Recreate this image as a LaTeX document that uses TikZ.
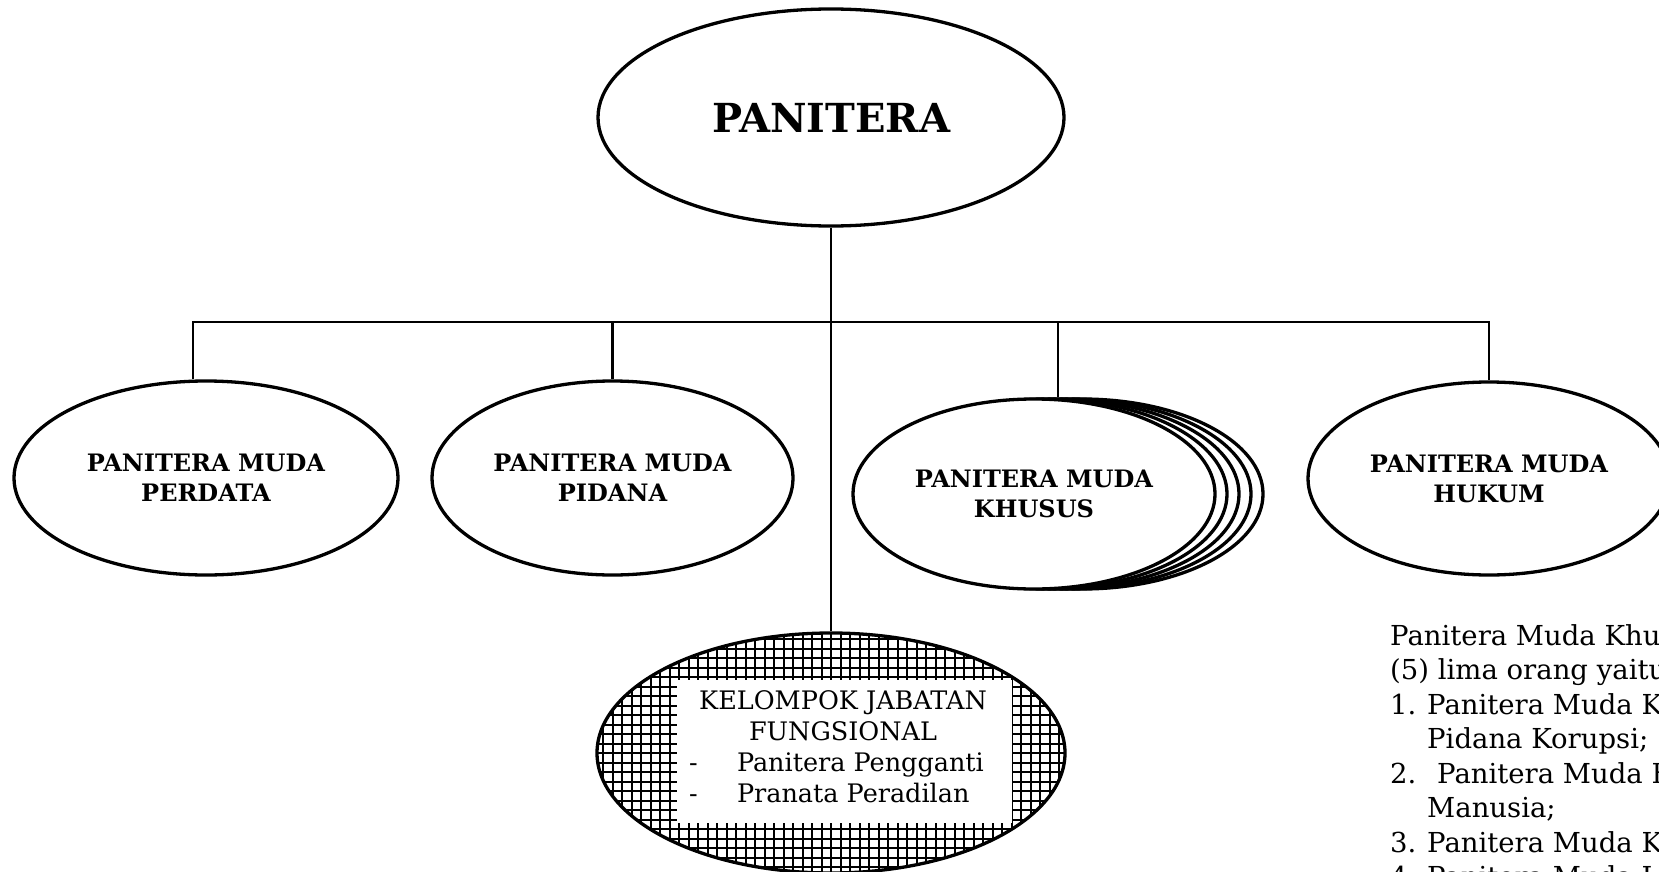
\documentclass[tikz,border=0pt]{standalone}
\usepackage{fontspec}
\setmainfont{DejaVu Serif}
\usetikzlibrary{shapes.geometric}

\begin{document}
\begin{tikzpicture}[x=1pt,y=-1pt,
  oval/.style={ellipse,draw,line width=3.3pt,fill=white,inner sep=0pt,
    minimum width=362pt,minimum height=192pt,align=center,
    font=\bfseries\fontsize{24}{30}\selectfont},
  conn/.style={line width=2.8pt},
  hatch/.style={ellipse,draw,line width=3.3pt,inner sep=0pt,
    path picture={\draw[line width=2pt,step=9.5pt]
      (path picture bounding box.south west) grid (path picture bounding box.north east);}},
  fnbox/.style={rectangle,fill=white,inner sep=0pt},
  note/.style={align=left,inner sep=0pt,font=\fontsize{27.5}{34.5}\selectfont}]
\useasboundingbox (0,0) rectangle (1659,872);
\clip (0,0) rectangle (1659,872);

% Panitera
\node[oval,minimum width=466pt,minimum height=217pt,font=\bfseries\fontsize{40}{48}\selectfont]
  (panitera) at (831,117.5) {PANITERA};

% Panitera Muda
\node[oval,minimum width=384pt,minimum height=194pt] (perdata) at (206,478) {PANITERA MUDA\\PERDATA};
\node[oval,minimum width=361pt,minimum height=194pt] (pidana) at (612.5,478) {PANITERA MUDA\\PIDANA};
\foreach \dx in {48,36,24,12}
  \node[oval,minimum height=190pt] (khusus\dx) at (1034+\dx,494) {};
\node[oval,minimum height=190pt] (khusus) at (1034,494) {PANITERA MUDA\\KHUSUS};
\node[oval,minimum height=193pt] (hukum) at (1489,478.5) {PANITERA MUDA\\HUKUM};

% Kelompok jabatan fungsional
\node[hatch,minimum width=468pt,minimum height=240pt] (fungsional) at (831,753) {};
\node[fnbox,minimum width=335pt,minimum height=143pt] (fnbox) at (844.5,751.5) {};
\node[align=center,inner sep=0pt,font=\fontsize{25.5}{31}\selectfont] (fntext) at (843,747)
  {KELOMPOK JABATAN\\FUNGSIONAL\\
   \makebox[308pt][l]{\makebox[48pt][l]{-}Panitera Pengganti}\\
   \makebox[308pt][l]{\makebox[48pt][l]{-}Pranata Peradilan}};

% Keterangan
\node[note,anchor=north west] (note) at (1390,624)
  {Panitera Muda Khu\\
   (5) lima orang yaitu\\
   \makebox[37pt][l]{1.}Panitera Muda K\\
   \hspace*{37pt}Pidana Korupsi;\\
   \makebox[37pt][l]{2.}\hspace*{10pt}Panitera Muda H\\
   \hspace*{37pt}Manusia;\\
   \makebox[37pt][l]{3.}Panitera Muda K\\
   \makebox[37pt][l]{4.}Panitera Muda I};

% Lines
\coordinate (busL) at (193,322);
\coordinate (busR) at (1489,322);
\draw[conn] (panitera.south) -- (fungsional.north);
\draw[conn] (perdata.north -| busL) -- (busL) -- (busR) -- (hukum.north);
\draw[conn] (pidana.north) -- (pidana.north |- busL);
\draw[conn] (khusus24.north) -- (khusus24.north |- busL);
\end{tikzpicture}
\end{document}
